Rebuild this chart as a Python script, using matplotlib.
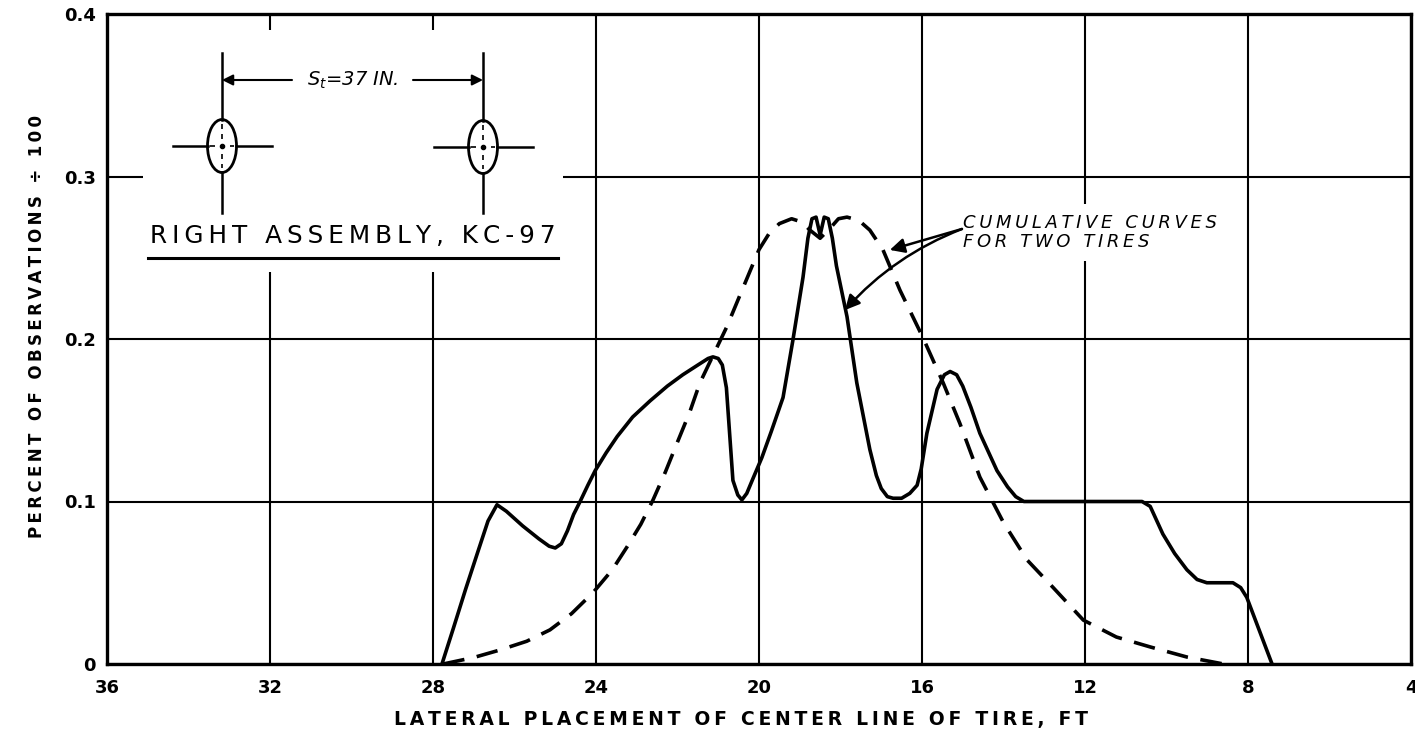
import matplotlib
matplotlib.use("Agg")
import matplotlib.pyplot as plt
from matplotlib.patches import Ellipse

plt.rcParams['font.family'] = ['DejaVu Sans']

# Lateral placement (ft) and percent of observations / 100
solid_x = [27.78, 27.5, 27.2, 26.9, 26.65, 26.43, 26.2, 25.8, 25.4, 25.15, 25.0,
           24.85, 24.7, 24.55, 24.39, 24.2, 24.02, 23.75, 23.48, 23.1, 22.67,
           22.25, 21.87, 21.5, 21.25, 21.13, 21.0, 20.9, 20.8, 20.64, 20.52,
           20.42, 20.3, 20.15, 19.93, 19.7, 19.41, 19.17, 18.92, 18.8, 18.7,
           18.6, 18.5, 18.4, 18.3, 18.2, 18.1, 17.84, 17.6, 17.28, 17.12, 17.0,
           16.85, 16.71, 16.5, 16.3, 16.12, 16.02, 15.88, 15.63, 15.45, 15.31,
           15.15, 15.0, 14.8, 14.58, 14.16, 13.9, 13.7, 13.5, 12.0, 10.6, 10.4,
           10.09, 9.8, 9.5, 9.25, 9.01, 8.6, 8.37, 8.18, 8.03, 7.41]
solid_y = [0.0, 0.022, 0.046, 0.069, 0.088, 0.098, 0.094, 0.085, 0.077, 0.0725, 0.0714,
           0.074, 0.082, 0.092, 0.1, 0.11, 0.119, 0.13, 0.14, 0.152, 0.162,
           0.171, 0.178, 0.184, 0.188, 0.189, 0.188, 0.184, 0.17, 0.113, 0.104,
           0.101, 0.105, 0.114, 0.127, 0.143, 0.164, 0.199, 0.238, 0.262, 0.274,
           0.275, 0.264, 0.275, 0.274, 0.262, 0.245, 0.2137, 0.173, 0.132, 0.116, 0.108,
           0.103, 0.102, 0.102, 0.105, 0.11, 0.12, 0.142, 0.169, 0.178, 0.18,
           0.178, 0.171, 0.158, 0.142, 0.119, 0.109, 0.103, 0.1, 0.1, 0.1, 0.097,
           0.08, 0.068, 0.058, 0.052, 0.05, 0.05, 0.05, 0.047, 0.041, 0.0]

dash_x = [27.75, 27.0, 26.36, 25.7, 25.13, 24.6, 24.07, 23.6, 23.24, 22.9, 22.6,
          22.3, 22.01, 21.7, 21.45, 21.03, 20.79, 20.5, 20.2, 20.0, 19.75, 19.5,
          19.2, 18.95, 18.75, 18.5, 18.26, 18.05, 17.84, 17.55, 17.28, 16.96,
          16.54, 15.98, 15.48, 15.07, 14.58, 14.0, 13.42, 12.78, 12.04, 11.23,
          10.4, 9.5, 8.6]
dash_y = [0.0, 0.004, 0.0086, 0.014, 0.021, 0.031, 0.044, 0.058, 0.072, 0.086, 0.101,
          0.118, 0.136, 0.155, 0.173, 0.195, 0.2075, 0.225, 0.243, 0.255, 0.265, 0.271,
          0.274, 0.272, 0.267, 0.262, 0.268, 0.274, 0.275, 0.273, 0.267, 0.255,
          0.23, 0.201, 0.173, 0.148, 0.115, 0.087, 0.064, 0.047, 0.027, 0.0166,
          0.0105, 0.0043, 0.0]

x_ticks = [36, 32, 28, 24, 20, 16, 12, 8, 4]
y_ticks = [0, 0.1, 0.2, 0.3, 0.4]
y_tick_labels = ["0", "0.1", "0.2", "0.3", "0.4"]


def spaced(s, gap='\u2009'):
    # widen lettering like the stencilled originals
    return gap.join(s)


fig = plt.figure(figsize=(14.15, 7.38), dpi=100)
ax = fig.add_axes([107 / 1415, 1 - 664 / 738, 1304 / 1415, 650 / 738])
ax.set_xlim(36, 4)
ax.set_ylim(0, 0.4)
ax.set_xticks(x_ticks)
ax.set_xticklabels([str(t) for t in x_ticks])
ax.set_yticks(y_ticks)
ax.set_yticklabels(y_tick_labels)
ax.tick_params(length=0, labelsize=13, pad=8)
ax.tick_params(axis='x', pad=11)
for lbl in ax.get_xticklabels() + ax.get_yticklabels():
    lbl.set_fontweight('bold')
for sp in ax.spines.values():
    sp.set_linewidth(2.4)
ax.grid(True, color='black', linewidth=1.5)
ax.set_axisbelow(True)

ax.plot(solid_x, solid_y, color='black', lw=2.6, solid_joinstyle='round',
        solid_capstyle='round', zorder=3)
ax.plot(dash_x, dash_y, color='black', lw=2.6, dashes=(6, 3.5),
        dash_capstyle='butt', zorder=3)

ax.set_xlabel(spaced("LATERAL PLACEMENT OF CENTER LINE OF TIRE, FT"),
              fontsize=13.5, fontweight='bold')
ax.xaxis.set_label_coords(0.486, -0.07)
ax.set_ylabel(spaced("PERCENT OF OBSERVATIONS ÷ 100"), fontsize=12,
              fontweight='bold')
ax.yaxis.set_label_coords(-0.047, 0.52)

# callout text with arrows to both curves
ax.text(15.0, 0.2655, spaced("CUMULATIVE CURVES") + "\n" + spaced("FOR TWO TIRES"),
        fontsize=13, style='italic', ha='left', va='center', linespacing=1.05,
        zorder=4, bbox=dict(fc='white', ec='none', pad=7))
ax.annotate("", xy=(16.79, 0.2548), xytext=(15.02, 0.2677),
            arrowprops=dict(arrowstyle='-|>', color='black', lw=1.8,
                            mutation_scale=22, shrinkA=0, shrinkB=0), zorder=5)
ax.annotate("", xy=(17.89, 0.2178), xytext=(15.02, 0.2677),
            arrowprops=dict(arrowstyle='-|>', color='black', lw=1.8,
                            mutation_scale=22, shrinkA=0, shrinkB=0,
                            connectionstyle='arc3,rad=0.12'), zorder=5)

# inset sketch of the dual-tire assembly, drawn in pixel units
ins = ax.inset_axes([36 / 1304, 392 / 650, 420 / 1304, 242 / 650], zorder=4)
ins.set_xlim(143, 563)
ins.set_ylim(277, 35)
ins.axis('off')
ins.add_patch(plt.Rectangle((143, 35), 420, 242, fc='white', ec='none', zorder=0))

for cx, cy in [(222, 151), (483, 152)]:
    ins.add_patch(Ellipse((cx, cy), 29, 53, fc='none', ec='black', lw=2.0))
    ins.plot([cx, cx], [58, cy - 26], color='black', lw=1.8)
    ins.plot([cx, cx], [cy + 26, 218], color='black', lw=1.8)
    ins.plot([cx - 49, cx - 14], [cy, cy], color='black', lw=1.8)
    ins.plot([cx + 14, cx + 50], [cy, cy], color='black', lw=1.8)
    ins.plot([cx, cx], [cy - 22, cy + 22], color='black', lw=1.2, dashes=(3, 3))
    ins.plot([cx - 12, cx + 12], [cy, cy], color='black', lw=1.2, dashes=(3, 3))
    ins.plot(cx, cy, 'o', color='black', ms=3)

ins.annotate("", xy=(222, 85), xytext=(292, 85),
             arrowprops=dict(arrowstyle='-|>', color='black', lw=1.5,
                             mutation_scale=16, shrinkA=0, shrinkB=0))
ins.annotate("", xy=(483, 85), xytext=(413, 85),
             arrowprops=dict(arrowstyle='-|>', color='black', lw=1.5,
                             mutation_scale=16, shrinkA=0, shrinkB=0))
ins.text(353, 85, r"$S_t$=37 IN.", fontsize=14, style='italic',
         ha='center', va='center')
ins.text(353, 241, spaced("RIGHT ASSEMBLY, KC-97"), fontsize=17.8,
         ha='center', va='center')
ins.plot([148, 558], [263, 263], color='black', lw=2.2)

fig.savefig("out.png", dpi=100, facecolor='white')
